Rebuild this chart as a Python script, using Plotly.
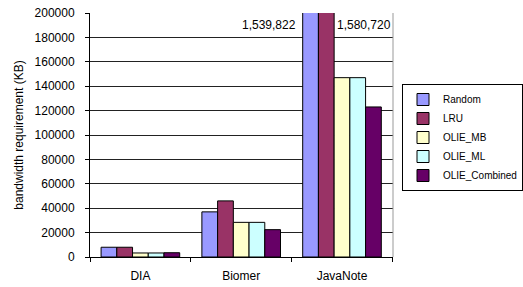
import plotly.graph_objects as go

categories = ["DIA", "Biomer", "JavaNote"]
series_names = ["Random", "LRU", "OLIE_MB", "OLIE_ML", "OLIE_Combined"]
random_vals = [8000, 37000, 1539822]
lru_vals = [8000, 46000, 1580720]
olie_mb_vals = [3300, 28400, 147000]
olie_ml_vals = [3300, 28400, 147000]
olie_combined_vals = [3500, 22400, 123000]
colors = ["#9999FF", "#993366", "#FFFFCC", "#CCFFFF", "#660066"]
y_ticks = [0, 20000, 40000, 60000, 80000, 100000, 120000, 140000, 160000, 180000, 200000]

all_vals = [random_vals, lru_vals, olie_mb_vals, olie_ml_vals, olie_combined_vals]
FONT = "Liberation Sans, Arial, sans-serif"

fig = go.Figure()
for name, vals, col in zip(series_names, all_vals, colors):
    fig.add_trace(go.Bar(
        x=categories, y=vals, name=name,
        marker=dict(color=col, line=dict(color="black", width=1)),
    ))

# clipped bar value labels
fig.add_annotation(x="JavaNote", y=190000, text=f"{random_vals[2]:,}", showarrow=False,
                   xanchor="right", yanchor="middle", xshift=-44,
                   font=dict(family=FONT, size=12, color="black"))
fig.add_annotation(x="JavaNote", y=190000, text=f"{lru_vals[2]:,}", showarrow=False,
                   xanchor="left", yanchor="middle", xshift=-7,
                   font=dict(family=FONT, size=12, color="black"))

# right border of plot area
fig.add_shape(type="line", xref="paper", yref="paper", x0=1, x1=1, y0=0, y1=1,
              line=dict(color="#999999", width=1))

fig.update_layout(
    width=523, height=287,
    margin=dict(l=90, r=130, t=13, b=30, autoexpand=False),
    paper_bgcolor="white", plot_bgcolor="white",
    font=dict(family=FONT, size=12, color="black"),
    barmode="group", bargap=0.22, bargroupgap=0,
    showlegend=True,
    legend=dict(
        xref="container", yref="container",
        x=402 / 523, y=1 - 84 / 287, xanchor="left", yanchor="top",
        bgcolor="white", bordercolor="black", borderwidth=1,
        font=dict(family=FONT, size=10), tracegroupgap=0, itemwidth=30,
    ),
)
fig.update_xaxes(
    type="category", showline=True, linecolor="black", linewidth=1,
    ticks="outside", tickson="boundaries", ticklen=4, tickcolor="black",
    showgrid=False, ticklabelstandoff=8, tickfont=dict(size=12),
)
fig.update_yaxes(
    range=[0, 200000], tickvals=y_ticks, ticktext=[str(v) for v in y_ticks],
    showline=True, linecolor="black", linewidth=1,
    ticks="outside", ticklen=4, tickcolor="black",
    showgrid=True, gridcolor="#222222", gridwidth=1, zeroline=False,
    ticklabelstandoff=8, tickfont=dict(size=12),
    title=dict(text="bandwidth requirement (KB)", font=dict(size=12), standoff=8),
)
fig.write_html("out.html", config={"displayModeBar": False},
               post_script="document.body.style.margin='0';")
